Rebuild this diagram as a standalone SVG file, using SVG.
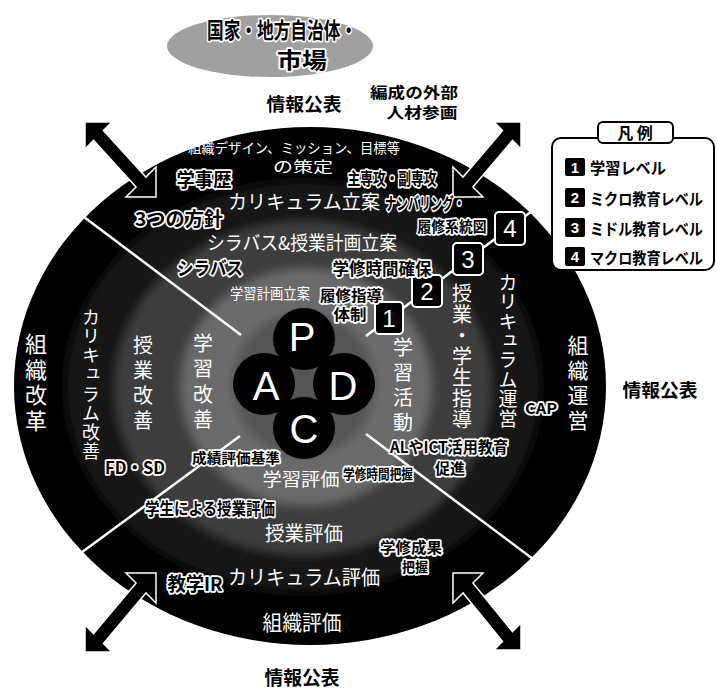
<svg xmlns="http://www.w3.org/2000/svg" width="717" height="691" viewBox="0 0 717 691">
<defs>
<style>
text{font-family:"Noto Sans CJK JP","Noto Sans",sans-serif;}
.w{fill:#fff;}
.o{fill:#000;stroke:#fff;stroke-width:3.5;stroke-linejoin:round;paint-order:stroke;font-weight:bold;}
.k{fill:#000;font-weight:bold;}
.v{writing-mode:vertical-rl;fill:#fff;}
.c{text-anchor:middle;}
.pd{fill:#fff;font-family:"Liberation Sans",Arial,sans-serif;font-size:40px;text-anchor:middle;}
.num{fill:#fff;font-family:"Liberation Sans",Arial,sans-serif;text-anchor:middle;}
.lnum{fill:#fff;font-family:"Liberation Sans",Arial,sans-serif;font-weight:bold;font-size:15px;text-anchor:middle;}
.arrow{fill:#000;stroke:#fff;stroke-width:1.5;}
.ln{stroke:#fff;stroke-width:2.5;fill:none;}
.box{fill:#000;stroke:#fff;stroke-width:2;}
.circ{fill:#000;}
</style>
<filter id="soft" x="-20%" y="-20%" width="140%" height="140%"><feGaussianBlur stdDeviation="5"/></filter>
</defs>
<rect width="717" height="691" fill="#fff"/>

<g id="nation">
<ellipse cx="270" cy="46" rx="103" ry="31" fill="#a0a0a0"/>
<text class="o c" x="282" y="38" font-size="22" textLength="150" lengthAdjust="spacingAndGlyphs">国家・地方自治体・</text>
<text class="o c" x="302" y="68" font-size="22" textLength="50" lengthAdjust="spacingAndGlyphs">市場</text>
</g>

<g id="outside-labels">
<text class="k c" x="304" y="111" font-size="18" textLength="75" lengthAdjust="spacingAndGlyphs">情報公表</text>
<text class="k c" x="414" y="98" font-size="15" textLength="88" lengthAdjust="spacingAndGlyphs">編成の外部</text>
<text class="k c" x="422" y="118" font-size="15" textLength="71" lengthAdjust="spacingAndGlyphs">人材参画</text>
<text class="k c" x="660" y="397" font-size="18" textLength="75" lengthAdjust="spacingAndGlyphs">情報公表</text>
<text class="k c" x="302" y="685" font-size="19" textLength="75" lengthAdjust="spacingAndGlyphs">情報公表</text>
</g>

<g id="levels">
<ellipse cx="310" cy="386" rx="296" ry="259" fill="#000"/>
<g filter="url(#soft)">
<ellipse cx="303" cy="387" rx="238" ry="206" fill="#181818"/>
<ellipse cx="303" cy="388" rx="188" ry="166" fill="#3c3c3c"/>
<ellipse cx="306" cy="387" rx="125" ry="118" fill="#6a6a6a"/>
<ellipse cx="304" cy="384" rx="72" ry="72" fill="#555"/>
</g>
</g>

<g id="connectors">
<line class="ln" x1="60" y1="199" x2="241" y2="335"/>
<line class="ln" x1="55" y1="572" x2="240" y2="436"/>
<line class="ln" x1="366" y1="434" x2="545" y2="568"/>
<line class="ln" x1="366" y1="336" x2="540" y2="205"/>
<polygon class="arrow" points="85,122 112,122 103.45,130.55 145.95,177.05 156,167 156,197 126,197 136.05,186.95 93.55,140.45 85,149"/>
<polygon class="arrow" points="521,122 494,122 502.55,130.55 463.05,177.05 453,167 453,197 483,197 472.95,186.95 512.45,140.45 521,149"/>
<polygon class="arrow" points="85,652 112,652 103.45,643.45 145.95,592.95 156,603 156,573 126,573 136.05,583.05 93.55,633.55 85,625"/>
<polygon class="arrow" points="521,650 494,650 502.55,641.45 463.05,592.95 453,603 453,573 483,573 472.95,583.05 512.45,631.55 521,623"/>
</g>

<g id="pdca">
<circle class="circ" cx="304" cy="339" r="31"/>
<circle class="circ" cx="264" cy="384" r="31"/>
<circle class="circ" cx="344" cy="384" r="31"/>
<circle class="circ" cx="304" cy="428" r="31"/>
<text class="pd" x="302" y="351">P</text>
<text class="pd" x="266" y="400">A</text>
<text class="pd" x="343" y="400">D</text>
<text class="pd" x="304" y="443">C</text>
</g>

<g id="level-boxes">
<rect class="box" x="375" y="302" width="28" height="32" rx="4"/>
<text class="num" x="389" y="327" font-size="24">1</text>
<rect class="box" x="412" y="275" width="30" height="32" rx="4"/>
<text class="num" x="427" y="300" font-size="24">2</text>
<rect class="box" x="453" y="243" width="30" height="32" rx="4"/>
<text class="num" x="468" y="268" font-size="24">3</text>
<rect class="box" x="495" y="212" width="30" height="33" rx="4"/>
<text class="num" x="510" y="237" font-size="24">4</text>
</g>

<g id="plan-labels">
<text class="w c" x="294" y="153" font-size="14" textLength="212" lengthAdjust="spacingAndGlyphs">組織デザイン、ミッション、目標等</text>
<text class="w c" x="303" y="172" font-size="15" textLength="60" lengthAdjust="spacingAndGlyphs">の策定</text>
<text class="w c" x="304" y="209" font-size="19" textLength="152" lengthAdjust="spacingAndGlyphs">カリキュラム立案</text>
<text class="w c" x="302" y="250" font-size="19" textLength="190" lengthAdjust="spacingAndGlyphs">シラバス&amp;授業計画立案</text>
<text class="w c" x="270" y="299" font-size="15" textLength="80" lengthAdjust="spacingAndGlyphs">学習計画立案</text>
<text class="o c" x="204" y="187" font-size="19" textLength="55" lengthAdjust="spacingAndGlyphs">学事歴</text>
<text class="o c" x="179" y="226" font-size="19" textLength="88" lengthAdjust="spacingAndGlyphs">3つの方針</text>
<text class="o c" x="392" y="185" font-size="17" textLength="89" lengthAdjust="spacingAndGlyphs">主専攻・副専攻</text>
<text class="o c" x="425" y="210" font-size="17" textLength="80" lengthAdjust="spacingAndGlyphs">ナンバリング・</text>
<text class="o c" x="452" y="232" font-size="15" textLength="69" lengthAdjust="spacingAndGlyphs">履修系統図</text>
<text class="o c" x="210" y="275" font-size="18" textLength="66" lengthAdjust="spacingAndGlyphs">シラバス</text>
<text class="o c" x="382" y="275" font-size="17" textLength="99" lengthAdjust="spacingAndGlyphs">学修時間確保</text>
<text class="o c" x="351" y="301" font-size="15" textLength="62" lengthAdjust="spacingAndGlyphs">履修指導</text>
<text class="o c" x="350" y="320" font-size="15" textLength="33" lengthAdjust="spacingAndGlyphs">体制</text>
</g>

<g id="act-labels">
<text class="v" x="36" y="333" font-size="22" letter-spacing="3.5">組織改革</text>
<text class="v" x="91" y="308" font-size="18" letter-spacing="1.2">カリキュラム改善</text>
<text class="v" x="143" y="335" font-size="20" letter-spacing="5">授業改善</text>
<text class="v" x="203" y="333" font-size="20" letter-spacing="5.5">学習改善</text>
<text class="o c" x="135" y="474" font-size="17" textLength="60" lengthAdjust="spacingAndGlyphs">FD・SD</text>
</g>

<g id="do-labels">
<text class="v" x="403" y="337" font-size="20" letter-spacing="5">学習活動</text>
<text class="v" x="462" y="283" font-size="20" letter-spacing="1">授業・学生指導</text>
<text class="v" x="508" y="273" font-size="19" letter-spacing="0.4">カリキュラム運営</text>
<text class="v" x="578" y="335" font-size="21" letter-spacing="4">組織運営</text>
<text class="o c" x="541" y="414" font-size="15" textLength="32" lengthAdjust="spacingAndGlyphs">CAP</text>
</g>

<g id="check-labels">
<text class="o c" x="236" y="463" font-size="14" textLength="88" lengthAdjust="spacingAndGlyphs">成績評価基準</text>
<text class="w c" x="301" y="486" font-size="18" textLength="77" lengthAdjust="spacingAndGlyphs">学習評価</text>
<text class="o c" x="378" y="479" font-size="14" textLength="70" lengthAdjust="spacingAndGlyphs">学修時間把握</text>
<text class="o c" x="449" y="453" font-size="16" textLength="118" lengthAdjust="spacingAndGlyphs">ALやICT活用教育</text>
<text class="o c" x="450" y="474" font-size="15" textLength="30" lengthAdjust="spacingAndGlyphs">促進</text>
<text class="o c" x="210" y="515" font-size="17" textLength="130" lengthAdjust="spacingAndGlyphs">学生による授業評価</text>
<text class="w c" x="304" y="541" font-size="20" textLength="78" lengthAdjust="spacingAndGlyphs">授業評価</text>
<text class="o c" x="411" y="553" font-size="15" textLength="62" lengthAdjust="spacingAndGlyphs">学修成果</text>
<text class="o c" x="415" y="572" font-size="14" textLength="26" lengthAdjust="spacingAndGlyphs">把握</text>
<text class="o c" x="195" y="591" font-size="19" textLength="55" lengthAdjust="spacingAndGlyphs">教学IR</text>
<text class="w c" x="304" y="585" font-size="20" textLength="152" lengthAdjust="spacingAndGlyphs">カリキュラム評価</text>
<text class="w c" x="302" y="630" font-size="21" textLength="79" lengthAdjust="spacingAndGlyphs">組織評価</text>
</g>

<g id="legend">
<rect x="552" y="138" width="162" height="132" rx="9" fill="#fff" stroke="#000" stroke-width="2"/>
<rect x="598" y="122" width="75" height="21" rx="5" fill="#fff" stroke="#000" stroke-width="2"/>
<text class="k c" x="635" y="139" font-size="16">凡 例</text>
<rect x="565" y="158" width="20" height="18" rx="2" fill="#000"/>
<text class="lnum" x="575" y="173">1</text>
<text class="k" x="590" y="174" font-size="16" textLength="76" lengthAdjust="spacingAndGlyphs">学習レベル</text>
<rect x="565" y="188" width="20" height="19" rx="2" fill="#000"/>
<text class="lnum" x="575" y="203">2</text>
<text class="k" x="590" y="205" font-size="16" textLength="113" lengthAdjust="spacingAndGlyphs">ミクロ教育レベル</text>
<rect x="565" y="218" width="20" height="19" rx="2" fill="#000"/>
<text class="lnum" x="575" y="233">3</text>
<text class="k" x="590" y="235" font-size="16" textLength="113" lengthAdjust="spacingAndGlyphs">ミドル教育レベル</text>
<rect x="565" y="247" width="20" height="19" rx="2" fill="#000"/>
<text class="lnum" x="575" y="262">4</text>
<text class="k" x="590" y="264" font-size="16" textLength="113" lengthAdjust="spacingAndGlyphs">マクロ教育レベル</text>
</g>
</svg>
